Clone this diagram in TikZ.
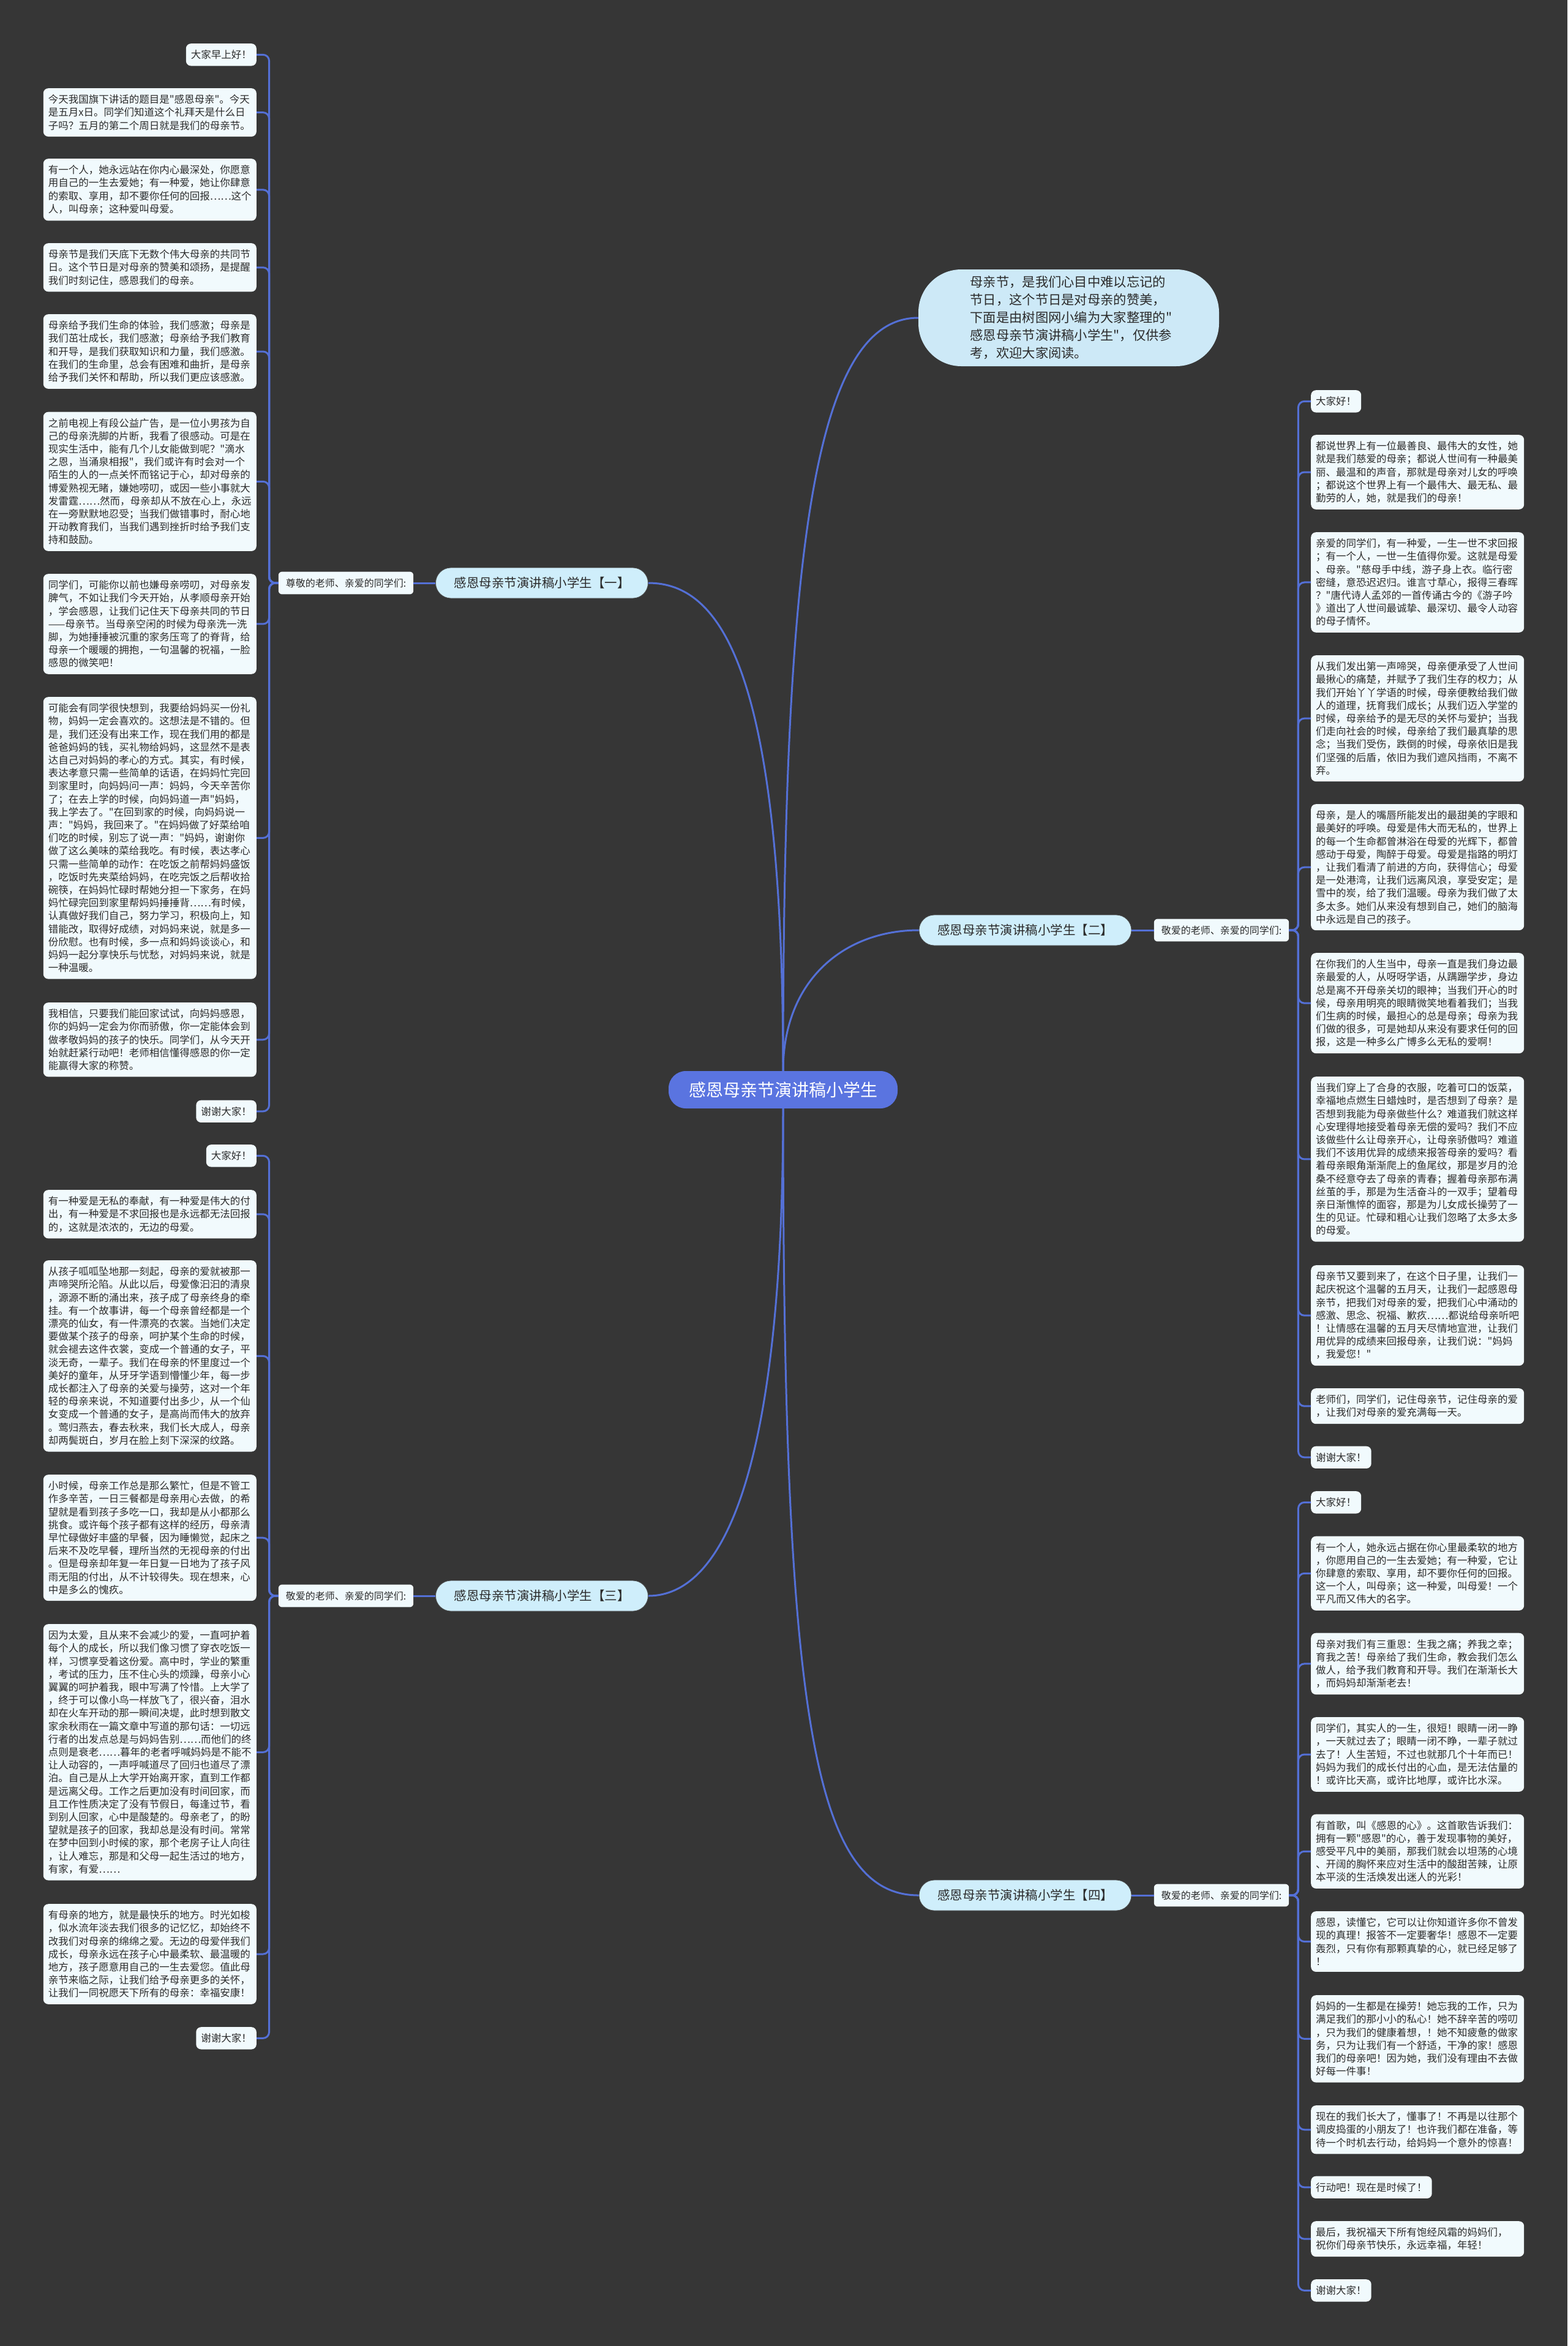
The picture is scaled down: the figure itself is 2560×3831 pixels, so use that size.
\documentclass[tikz,border=0pt]{standalone}
\usepackage{fontspec}
\newfontfamily\cjk{Noto Sans CJK SC}
\definecolor{bgc}{HTML}{363636}
\definecolor{leafc}{HTML}{F1FAFD}
\definecolor{txtc}{HTML}{2B2B2B}
\definecolor{linec}{HTML}{5470D6}
\definecolor{centerc}{HTML}{5A74E0}
\definecolor{branchc}{HTML}{CFEEFB}
\definecolor{bubblec}{HTML}{CDE9F7}
\tikzset{
  leaf/.style={fill=leafc, rounded corners=8pt, inner xsep=8pt, inner ysep=10.5pt,
    font=\cjk\fontsize{16.5}{21.2}\selectfont, text=txtc, align=left},
  wide/.style={leaf, text width=332pt},
  lftleaf/.style={anchor=north east},
  rgtleaf/.style={anchor=north west},
  lab/.style={fill=leafc, rounded corners=6pt, inner xsep=12pt, inner ysep=11pt,
    font=\cjk\fontsize{16}{20}\selectfont, text=txtc},
  branch/.style={fill=branchc, draw=black!70, line width=0.8pt, rounded corners=25pt, minimum width=347pt, minimum height=50pt,
    inner sep=0pt, font=\cjk\fontsize{20.5}{24}\selectfont, text=txtc},
  centre/.style={fill=centerc, rounded corners=28pt, minimum width=374pt, minimum height=61pt,
    inner sep=0pt, font=\cjk\fontsize{28}{32}\selectfont, text=white},
  bubble/.style={fill=bubblec, rounded corners=70pt, minimum width=491pt, minimum height=158pt,
    text width=322pt, align=left, inner sep=0pt, font=\cjk\fontsize{21.3}{29}\selectfont, text=txtc},
  conn/.style={draw=linec, line width=3pt, rounded corners=10pt},
  mainconn/.style={draw=linec, line width=3pt},
}
\begin{document}
\begin{tikzpicture}[x=1pt, y=-1pt]
\useasboundingbox (0,0) rectangle (2560,3831);
\fill[bgc] (0,0) rectangle (2560,3831);

% centre and main branches
\node[centre] (ctr) at (1279,1779.5) {感恩母亲节演讲稿小学生};
\node[bubble] (bub) at (1745.5,519) {母亲节，是我们心目中难以忘记的\\节日，这个节日是对母亲的赞美，\\下面是由树图网小编为大家整理的"\\感恩母亲节演讲稿小学生"，仅供参\\考，欢迎大家阅读。};
\node[branch] (b1) at (885,952) {感恩母亲节演讲稿小学生【一】};
\node[branch] (b2) at (1674.5,1519) {感恩母亲节演讲稿小学生【二】};
\node[branch] (b3) at (885,2606) {感恩母亲节演讲稿小学生【三】};
\node[branch] (b4) at (1674.5,3095) {感恩母亲节演讲稿小学生【四】};

\node[lab] (lab1) at (565,952) {尊敬的老师、亲爱的同学们:};
\node[lab] (lab2) at (1995,1519) {敬爱的老师、亲爱的同学们:};
\node[lab] (lab3) at (565,2606) {敬爱的老师、亲爱的同学们:};
\node[lab] (lab4) at (1995,3095) {敬爱的老师、亲爱的同学们:};

% left column, branch 1
\node[leaf, lftleaf] (l1) at (419,71) {大家早上好！};
\node[wide, lftleaf] (l2) at (419,144) {今天我国旗下讲话的题目是"感恩母亲"。今天\\是五月x日。同学们知道这个礼拜天是什么日\\子吗？五月的第二个周日就是我们的母亲节。};
\node[wide, lftleaf] (l3) at (419,259) {有一个人，她永远站在你内心最深处，你愿意\\用自己的一生去爱她；有一种爱，她让你肆意\\的索取、享用，却不要你任何的回报……这个\\人，叫母亲；这种爱叫母爱。};
\node[wide, lftleaf] (l4) at (419,397) {母亲节是我们天底下无数个伟大母亲的共同节\\日。这个节日是对母亲的赞美和颂扬，是提醒\\我们时刻记住，感恩我们的母亲。};
\node[wide, lftleaf] (l5) at (419,513) {母亲给予我们生命的体验，我们感激；母亲是\\我们茁壮成长，我们感激；母亲给予我们教育\\和开导，是我们获取知识和力量，我们感激。\\在我们的生命里，总会有困难和曲折，是母亲\\给予我们关怀和帮助，所以我们更应该感激。};
\node[wide, lftleaf] (l6) at (419,672.5) {之前电视上有段公益广告，是一位小男孩为自\\己的母亲洗脚的片断，我看了很感动。可是在\\现实生活中，能有几个儿女能做到呢？"滴水\\之恩，当涌泉相报"，我们或许有时会对一个\\陌生的人的一点关怀而铭记于心，却对母亲的\\博爱熟视无睹，嫌她唠叨，或因一些小事就大\\发雷霆……然而，母亲却从不放在心上，永远\\在一旁默默地忍受；当我们做错事时，耐心地\\开动教育我们，当我们遇到挫折时给予我们支\\持和鼓励。};
\node[wide, lftleaf] (l7) at (419,937) {同学们，可能你以前也嫌母亲唠叨，对母亲发\\脾气，不如让我们今天开始，从孝顺母亲开始\\，学会感恩，让我们记住天下母亲共同的节日\\——母亲节。当母亲空闲的时候为母亲洗一洗\\脚，为她捶捶被沉重的家务压弯了的脊背，给\\母亲一个暖暖的拥抱，一句温馨的祝福，一脸\\感恩的微笑吧！};
\node[wide, lftleaf] (l8) at (419,1138) {可能会有同学很快想到，我要给妈妈买一份礼\\物，妈妈一定会喜欢的。这想法是不错的。但\\是，我们还没有出来工作，现在我们用的都是\\爸爸妈妈的钱，买礼物给妈妈，这显然不是表\\达自己对妈妈的孝心的方式。其实，有时候，\\表达孝意只需一些简单的话语，在妈妈忙完回\\到家里时，向妈妈问一声：妈妈，今天辛苦你\\了；在去上学的时候，向妈妈道一声"妈妈，\\我上学去了。"在回到家的时候，向妈妈说一\\声："妈妈，我回来了。"在妈妈做了好菜给咱\\们吃的时候，别忘了说一声："妈妈，谢谢你\\做了这么美味的菜给我吃。有时候，表达孝心\\只需一些简单的动作：在吃饭之前帮妈妈盛饭\\，吃饭时先夹菜给妈妈，在吃完饭之后帮收拾\\碗筷，在妈妈忙碌时帮她分担一下家务，在妈\\妈忙碌完回到家里帮妈妈捶捶背……有时候，\\认真做好我们自己，努力学习，积极向上，知\\错能改，取得好成绩，对妈妈来说，就是多一\\份欣慰。也有时候，多一点和妈妈谈谈心，和\\妈妈一起分享快乐与忧愁，对妈妈来说，就是\\一种温暖。};
\node[wide, lftleaf] (l9) at (419,1637) {我相信，只要我们能回家试试，向妈妈感恩，\\你的妈妈一定会为你而骄傲，你一定能体会到\\做孝敬妈妈的孩子的快乐。同学们，从今天开\\始就赶紧行动吧！老师相信懂得感恩的你一定\\能赢得大家的称赞。};
\node[leaf, lftleaf] (l10) at (419,1796.5) {谢谢大家！};

% left column, branch 3
\node[leaf, lftleaf] (l11) at (419,1869) {大家好！};
\node[wide, lftleaf] (l12) at (419,1943) {有一种爱是无私的奉献，有一种爱是伟大的付\\出，有一种爱是不求回报也是永远都无法回报\\的，这就是浓浓的，无边的母爱。};
\node[wide, lftleaf] (l13) at (419,2058) {从孩子呱呱坠地那一刻起，母亲的爱就被那一\\声啼哭所沦陷。从此以后，母爱像汩汩的清泉\\，源源不断的涌出来，孩子成了母亲终身的牵\\挂。有一个故事讲，每一个母亲曾经都是一个\\漂亮的仙女，有一件漂亮的衣裳。当她们决定\\要做某个孩子的母亲，呵护某个生命的时候，\\就会褪去这件衣裳，变成一个普通的女子，平\\淡无奇，一辈子。我们在母亲的怀里度过一个\\美好的童年，从牙牙学语到懵懂少年，每一步\\成长都注入了母亲的关爱与操劳，这对一个年\\轻的母亲来说，不知道要付出多少，从一个仙\\女变成一个普通的女子，是高尚而伟大的放弃\\。莺归燕去，春去秋来，我们长大成人，母亲\\却两鬓斑白，岁月在脸上刻下深深的纹路。};
\node[wide, lftleaf] (l14) at (419,2408) {小时候，母亲工作总是那么繁忙，但是不管工\\作多辛苦，一日三餐都是母亲用心去做，的希\\望就是看到孩子多吃一口，我却是从小都那么\\挑食。或许每个孩子都有这样的经历，母亲清\\早忙碌做好丰盛的早餐，因为睡懒觉，起床之\\后来不及吃早餐，理所当然的无视母亲的付出\\。但是母亲却年复一年日复一日地为了孩子风\\雨无阻的付出，从不计较得失。现在想来，心\\中是多么的愧疚。};
\node[wide, lftleaf] (l15) at (419,2652) {因为太爱，且从来不会减少的爱，一直呵护着\\每个人的成长，所以我们像习惯了穿衣吃饭一\\样，习惯享受着这份爱。高中时，学业的繁重\\，考试的压力，压不住心头的烦躁，母亲小心\\翼翼的呵护着我，眼中写满了怜惜。上大学了\\，终于可以像小鸟一样放飞了，很兴奋，泪水\\却在火车开动的那一瞬间决堤，此时想到散文\\家余秋雨在一篇文章中写道的那句话：一切远\\行者的出发点总是与妈妈告别……而他们的终\\点则是衰老……暮年的老者呼喊妈妈是不能不\\让人动容的，一声呼喊道尽了回归也道尽了漂\\泊。自己是从上大学开始离开家，直到工作都\\是远离父母。工作之后更加没有时间回家，而\\且工作性质决定了没有节假日，每逢过节，看\\到别人回家，心中是酸楚的。母亲老了，的盼\\望就是孩子的回家，我却总是没有时间。常常\\在梦中回到小时候的家，那个老房子让人向往\\，让人难忘，那是和父母一起生活过的地方，\\有家，有爱……};
\node[wide, lftleaf] (l16) at (419,3109) {有母亲的地方，就是最快乐的地方。时光如梭\\，似水流年淡去我们很多的记忆忆，却始终不\\改我们对母亲的绵绵之爱。无边的母爱伴我们\\成长，母亲永远在孩子心中最柔软、最温暖的\\地方，孩子愿意用自己的一生去爱您。值此母\\亲节来临之际，让我们给予母亲更多的关怀，\\让我们一同祝愿天下所有的母亲：幸福安康！};
\node[leaf, lftleaf] (l17) at (419,3310) {谢谢大家！};

% right column, branch 2
\node[leaf, rgtleaf] (r1) at (2141,637) {大家好！};
\node[wide, rgtleaf] (r2) at (2141,710) {都说世界上有一位最善良、最伟大的女性，她\\就是我们慈爱的母亲；都说人世间有一种最美\\丽、最温和的声音，那就是母亲对儿女的呼唤\\；都说这个世界上有一个最伟大、最无私、最\\勤劳的人，她，就是我们的母亲！};
\node[wide, rgtleaf] (r3) at (2141,869) {亲爱的同学们，有一种爱，一生一世不求回报\\；有一个人，一世一生值得你爱。这就是母爱\\、母亲。"慈母手中线，游子身上衣。临行密\\密缝，意恐迟迟归。谁言寸草心，报得三春晖\\？"唐代诗人孟郊的一首传诵古今的《游子吟\\》道出了人世间最诚挚、最深切、最令人动容\\的母子情怀。};
\node[wide, rgtleaf] (r4) at (2141,1070) {从我们发出第一声啼哭，母亲便承受了人世间\\最揪心的痛楚，并赋予了我们生存的权力；从\\我们开始丫丫学语的时候，母亲便教给我们做\\人的道理，抚育我们成长；从我们迈入学堂的\\时候，母亲给予的是无尽的关怀与爱护；当我\\们走向社会的时候，母亲给了我们最真挚的思\\念；当我们受伤，跌倒的时候，母亲依旧是我\\们坚强的后盾，依旧为我们遮风挡雨，不离不\\弃。};
\node[wide, rgtleaf] (r5) at (2141,1313) {母亲，是人的嘴唇所能发出的最甜美的字眼和\\最美好的呼唤。母爱是伟大而无私的，世界上\\的每一个生命都曾淋浴在母爱的光辉下，都曾\\感动于母爱，陶醉于母爱。母爱是指路的明灯\\，让我们看清了前进的方向，获得信心；母爱\\是一处港湾，让我们远离风浪，享受安定；是\\雪中的炭，给了我们温暖。母亲为我们做了太\\多太多。她们从来没有想到自己，她们的脑海\\中永远是自己的孩子。};
\node[wide, rgtleaf] (r6) at (2141,1556) {在你我们的人生当中，母亲一直是我们身边最\\亲最爱的人，从呀呀学语，从蹒跚学步，身边\\总是离不开母亲关切的眼神；当我们开心的时\\候，母亲用明亮的眼睛微笑地看着我们；当我\\们生病的时候，最担心的总是母亲；母亲为我\\们做的很多，可是她却从来没有要求任何的回\\报，这是一种多么广博多么无私的爱啊！};
\node[wide, rgtleaf] (r7) at (2141,1758) {当我们穿上了合身的衣服，吃着可口的饭菜，\\幸福地点燃生日蜡烛时，是否想到了母亲？是\\否想到我能为母亲做些什么？难道我们就这样\\心安理得地接受着母亲无偿的爱吗？我们不应\\该做些什么让母亲开心，让母亲骄傲吗？难道\\我们不该用优异的成绩来报答母亲的爱吗？看\\着母亲眼角渐渐爬上的鱼尾纹，那是岁月的沧\\桑不经意夺去了母亲的青春；握着母亲那布满\\丝茧的手，那是为生活奋斗的一双手；望着母\\亲日渐憔悴的面容，那是为儿女成长操劳了一\\生的见证。忙碌和粗心让我们忽略了太多太多\\的母爱。};
\node[wide, rgtleaf] (r8) at (2141,2066) {母亲节又要到来了，在这个日子里，让我们一\\起庆祝这个温馨的五月天，让我们一起感恩母\\亲节，把我们对母亲的爱，把我们心中涌动的\\感激、思念、祝福、歉疚……都说给母亲听吧\\！让情感在温馨的五月天尽情地宣泄，让我们\\用优异的成绩来回报母亲，让我们说："妈妈\\，我爱您！"};
\node[wide, rgtleaf] (r9) at (2141,2267) {老师们，同学们，记住母亲节，记住母亲的爱\\，让我们对母亲的爱充满每一天。};
\node[leaf, rgtleaf] (r10) at (2141,2361.5) {谢谢大家！};

% right column, branch 4
\node[leaf, rgtleaf] (r11) at (2141,2435) {大家好！};
\node[wide, rgtleaf] (r12) at (2141,2508.5) {有一个人，她永远占据在你心里最柔软的地方\\，你愿用自己的一生去爱她；有一种爱，它让\\你肆意的索取、享用，却不要你任何的回报。\\这一个人，叫母亲；这一种爱，叫母爱！一个\\平凡而又伟大的名字。};
\node[wide, rgtleaf] (r13) at (2141,2666.5) {母亲对我们有三重恩：生我之痛；养我之幸；\\育我之苦！母亲给了我们生命，教会我们怎么\\做人，给予我们教育和开导。我们在渐渐长大\\，而妈妈却渐渐老去！};
\node[wide, rgtleaf] (r14) at (2141,2804) {同学们，其实人的一生，很短！眼睛一闭一睁\\，一天就过去了；眼睛一闭不睁，一辈子就过\\去了！人生苦短，不过也就那几个十年而已！\\妈妈为我们的成长付出的心血，是无法估量的\\！或许比天高，或许比地厚，或许比水深。};
\node[wide, rgtleaf] (r15) at (2141,2962.5) {有首歌，叫《感恩的心》。这首歌告诉我们：\\拥有一颗"感恩"的心，善于发现事物的美好，\\感受平凡中的美丽，那我们就会以坦荡的心境\\、开阔的胸怀来应对生活中的酸甜苦辣，让原\\本平淡的生活焕发出迷人的光彩！};
\node[wide, rgtleaf] (r16) at (2141,3121) {感恩，读懂它，它可以让你知道许多你不曾发\\现的真理！报答不一定要奢华！感恩不一定要\\轰烈，只有你有那颗真挚的心，就已经足够了\\！};
\node[wide, rgtleaf] (r17) at (2141,3258) {妈妈的一生都是在操劳！她忘我的工作，只为\\满足我们的那小小的私心！她不辞辛苦的唠叨\\，只为我们的健康着想，！她不知疲惫的做家\\务，只为让我们有一个舒适，干净的家！感恩\\我们的母亲吧！因为她，我们没有理由不去做\\好每一件事！};
\node[wide, rgtleaf] (r18) at (2141,3438) {现在的我们长大了，懂事了！不再是以往那个\\调皮捣蛋的小朋友了！也许我们都在准备，等\\待一个时机去行动，给妈妈一个意外的惊喜！};
\node[leaf, rgtleaf] (r19) at (2141,3553.5) {行动吧！现在是时候了！};
\node[wide, rgtleaf] (r20) at (2141,3627) {最后，我祝福天下所有饱经风霜的妈妈们，\\祝你们母亲节快乐，永远幸福，年轻！};
\node[leaf, rgtleaf] (r21) at (2141,3722) {谢谢大家！};

% connectors from centre
\draw[mainconn] (ctr.north) .. controls +(0,-850) and +(-170,0) .. (bub.west);
\draw[mainconn] (ctr.north) .. controls +(0,-650) and +(120,0) .. (b1.east);
\draw[mainconn] (ctr.north) .. controls +(0,-150) and +(-120,0) .. (b2.west);
\draw[mainconn] (ctr.south) .. controls +(0,600) and +(120,0) .. (b3.east);
\draw[mainconn] (ctr.south) .. controls +(0,1000) and +(-170,0) .. (b4.west);

% branch to label
\draw[mainconn] (b1.west) -- (lab1.east);
\draw[mainconn] (b2.east) -- (lab2.west);
\draw[mainconn] (b3.west) -- (lab3.east);
\draw[mainconn] (b4.east) -- (lab4.west);

% label to leaves
\foreach \i in {1,...,10} \draw[conn] (lab1.west) -- ++(-15,0) |- (l\i.east);
\foreach \i in {11,...,17} \draw[conn] (lab3.west) -- ++(-15,0) |- (l\i.east);
\foreach \i in {1,...,10} \draw[conn] (lab2.east) -- ++(15,0) |- (r\i.west);
\foreach \i in {11,...,21} \draw[conn] (lab4.east) -- ++(15,0) |- (r\i.west);
\end{tikzpicture}
\end{document}
